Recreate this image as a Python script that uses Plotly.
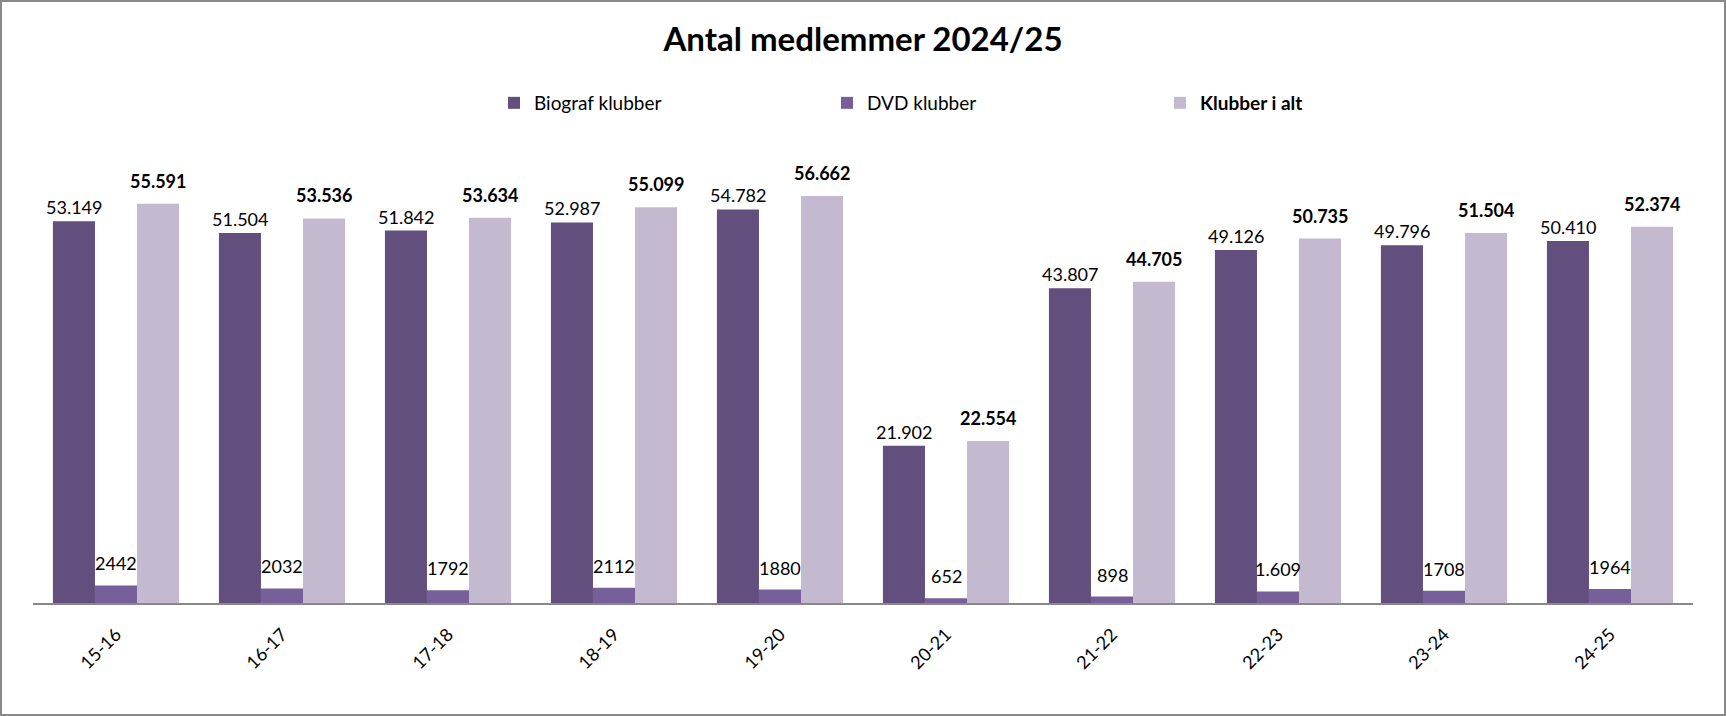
import plotly.graph_objects as go

seasons = ["15-16", "16-17", "17-18", "18-19", "19-20", "20-21", "21-22", "22-23", "23-24", "24-25"]
biograf = [53149, 51504, 51842, 52987, 54782, 21902, 43807, 49126, 49796, 50410]
dvd = [2442, 2032, 1792, 2112, 1880, 652, 898, 1609, 1708, 1964]
total = [55591, 53536, 53634, 55099, 56662, 22554, 44705, 50735, 51504, 52374]
dvd_labels = ["2442", "2032", "1792", "2112", "1880", "652", "898", "1.609", "1708", "1964"]

BIO_COLOR = "#634f7e"
DVD_COLOR = "#775f99"
TOTAL_COLOR = "#c3bad0"
AXIS_COLOR = "#888888"
FONT = "Lato"

WIDTH, HEIGHT = 1726, 716
MARGIN = {"l": 33, "r": 33, "t": 172, "b": 113}
BARGAP = 0.24
plot_w = WIDTH - MARGIN["l"] - MARGIN["r"]
plot_h = HEIGHT - MARGIN["t"] - MARGIN["b"]
bar_px = plot_w / len(seasons) * (1 - BARGAP) / 3


def dk(value: int) -> str:
    """Danish thousands separator."""
    return f"{value:,}".replace(",", ".")


fig = go.Figure()
for name, values, color in (
    ("Biograf klubber", biograf, BIO_COLOR),
    ("DVD klubber", dvd, DVD_COLOR),
    ("<b>Klubber i alt</b>", total, TOTAL_COLOR),
):
    fig.add_trace(go.Bar(x=seasons, y=values, name=name, marker={"color": color, "line": {"width": 0}}))

# Data labels as annotations so each series gets its own lift above the bar.
annotations = []
for series, texts, shift, bold, lift in (
    (biograf, [dk(v) for v in biograf], -bar_px, False, 1),
    (dvd, dvd_labels, 0.0, False, 9),
    (total, [dk(v) for v in total], bar_px, True, 10),
):
    for season, value, text in zip(seasons, series, texts):
        annotations.append(
            {
                "x": season,
                "y": value,
                "text": f"<b>{text}</b>" if bold else text,
                "showarrow": False,
                "xshift": shift,
                "yshift": lift,
                "yanchor": "bottom",
                "font": {"family": FONT, "size": 18, "color": "#000000"},
            }
        )

fig.update_layout(
    width=WIDTH,
    height=HEIGHT,
    margin=MARGIN,
    barmode="group",
    bargap=BARGAP,
    bargroupgap=0,
    plot_bgcolor="#ffffff",
    paper_bgcolor="#ffffff",
    font={"family": FONT, "color": "#000000"},
    title={
        "text": "<b>Antal medlemmer 2024/25</b>",
        "x": 0.5,
        "xanchor": "center",
        "y": 1 - 39 / HEIGHT,
        "yanchor": "middle",
        "font": {"family": FONT, "size": 33, "color": "#000000"},
    },
    legend={
        "orientation": "h",
        "x": (494 - MARGIN["l"]) / plot_w,
        "xanchor": "left",
        "y": 1 + (MARGIN["t"] - 103) / plot_h,
        "yanchor": "middle",
        "entrywidth": 288,
        "entrywidthmode": "pixels",
        "itemwidth": 30,
        "font": {"family": FONT, "size": 19, "color": "#000000"},
        "traceorder": "normal",
    },
    xaxis={
        "showline": True,
        "linecolor": AXIS_COLOR,
        "linewidth": 2,
        "tickangle": -45,
        "ticks": "outside",
        "ticklen": 12,
        "tickcolor": "rgba(0,0,0,0)",
        "tickfont": {"family": FONT, "size": 18, "color": "#000000"},
        "showgrid": False,
        "fixedrange": True,
    },
    yaxis={"visible": False, "range": [0, 60000], "showgrid": False, "fixedrange": True},
    annotations=annotations,
    shapes=[
        {
            "type": "rect",
            "xref": "paper",
            "yref": "paper",
            "x0": -(MARGIN["l"] - 1) / plot_w,
            "x1": 1 + (MARGIN["r"] - 1) / plot_w,
            "y0": -(MARGIN["b"] - 1) / plot_h,
            "y1": 1 + (MARGIN["t"] - 1) / plot_h,
            "line": {"color": AXIS_COLOR, "width": 2},
        }
    ],
)

# Drop the browser's default body margin so the figure sits at the page origin.
fig.write_html(
    "out.html",
    config={"displayModeBar": False},
    post_script="document.body.style.margin = '0';",
)
